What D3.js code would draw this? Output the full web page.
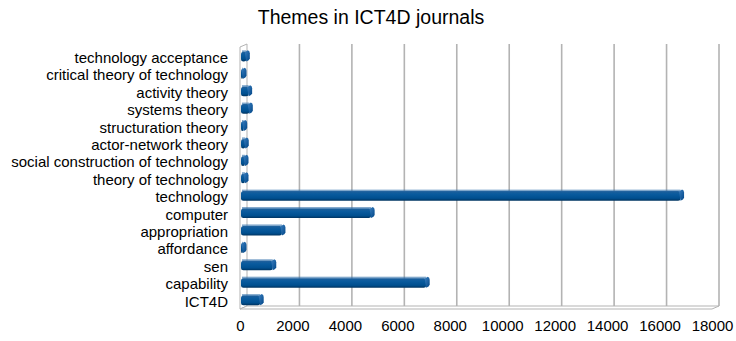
<!DOCTYPE html>
<html><head><meta charset="utf-8">
<script src="https://cdn.jsdelivr.net/npm/d3@7"></script>
<style>body{margin:0;background:#fff}svg{display:block}</style>
</head><body>
<svg id="c" width="736" height="341"></svg>
<script>
const categories = ["technology acceptance","critical theory of technology","activity theory","systems theory","structuration theory","actor-network theory","social construction of technology","theory of technology","technology","computer","appropriation","affordance","sen","capability","ICT4D"];
const values = [240,110,330,355,140,200,190,190,16800,5000,1600,100,1250,7100,770];
const tickValues = [0,2000,4000,6000,8000,10000,12000,14000,16000,18000];
const title = "Themes in ICT4D journals";

(function(){
const svg = d3.select("#c");
const font = "'Liberation Sans', Arial, sans-serif";
const pLeft = 240, pRight = 712, pTop = 48, pBottom = 309;
const dx = 7, dy = -3;
const x = d3.scaleLinear().domain([0,18000]).range([pLeft,pRight]);
const y = d3.scaleBand().domain(categories).range([pTop,pBottom]).paddingInner(0.45).paddingOuter(0.22);

const defs = svg.append("defs");
const g1 = defs.append("linearGradient").attr("id","bar").attr("x1",0).attr("y1",0).attr("x2",0).attr("y2",1);
g1.append("stop").attr("offset","0%").attr("stop-color","#1f5f9a");
g1.append("stop").attr("offset","30%").attr("stop-color","#0a5b9e");
g1.append("stop").attr("offset","75%").attr("stop-color","#004f8f");
g1.append("stop").attr("offset","100%").attr("stop-color","#00335f");
const g2 = defs.append("linearGradient").attr("id","cap").attr("x1",0).attr("y1",0).attr("x2",1).attr("y2",1);
g2.append("stop").attr("offset","0%").attr("stop-color","#3a7fc0");
g2.append("stop").attr("offset","100%").attr("stop-color","#004586");

svg.append("text").attr("x",371).attr("y",24).attr("text-anchor","middle")
  .attr("font-family",font).attr("font-size",19.5).attr("fill","#000").text(title);

svg.append("path").attr("d",`M${pLeft},${pBottom}L${pLeft},${pTop-1}L${pLeft+dx},${pTop-1+dy}L${pLeft+dx},${pBottom+dy}Z`)
  .attr("fill","#fff").attr("stroke","#b3b3b3").attr("stroke-width",1);
svg.append("path").attr("d",`M${pLeft},${pBottom}L${pRight},${pBottom}L${pRight+dx},${pBottom+dy}L${pLeft+dx},${pBottom+dy}Z`)
  .attr("fill","#fff").attr("stroke","#b3b3b3").attr("stroke-width",1);

svg.append("g").selectAll("line").data(tickValues.slice(1)).join("line")
  .attr("x1",d=>x(d)+dx).attr("x2",d=>x(d)+dx)
  .attr("y1",pTop-1+dy).attr("y2",pBottom+dy)
  .attr("stroke","#b3b3b3").attr("stroke-width",1.6);

const bars = svg.append("g");
categories.forEach((c,i)=>{
  const v = values[i];
  const y0 = y(c), h = y.bandwidth();
  const x0 = pLeft+1, x1 = x(v);
  const w = Math.max(x1-x0, 2);
  bars.append("rect").attr("x",x0).attr("y",y0).attr("width",w).attr("height",h)
    .attr("rx",2.5).attr("fill","url(#bar)");
  bars.append("path")
    .attr("d",`M${x0+w-1.5},${y0+0.5}L${x0+w+1.5},${y0-1.5}Q${x0+w+3.5},${y0-1.2} ${x0+w+3.5},${y0+1.5}L${x0+w+3.5},${y0+h-3}Q${x0+w+3},${y0+h-1} ${x0+w},${y0+h}Z`)
    .attr("fill","url(#cap)");
  bars.append("rect").attr("x",x0+1).attr("y",y0-1.5).attr("width",Math.max(w-1,1)).attr("height",2)
    .attr("fill","#2b6ca8").attr("opacity",0.6);
});

svg.append("g").selectAll("text").data(categories).join("text")
  .attr("x",228).attr("y",d=>y(d)+y.bandwidth()/2+1)
  .attr("dy","0.35em").attr("text-anchor","end")
  .attr("font-family",font).attr("font-size",15).attr("fill","#000").text(d=>d);

const axis = d3.axisBottom(x).tickValues(tickValues).tickSize(0).tickPadding(0).tickFormat(d3.format("d"));
const ax = svg.append("g").attr("transform",`translate(0,${pBottom+11})`).call(axis);
ax.select(".domain").remove();
ax.selectAll("text").attr("font-family",font).attr("font-size",15).attr("fill","#000");
})();
</script>
</body></html>
